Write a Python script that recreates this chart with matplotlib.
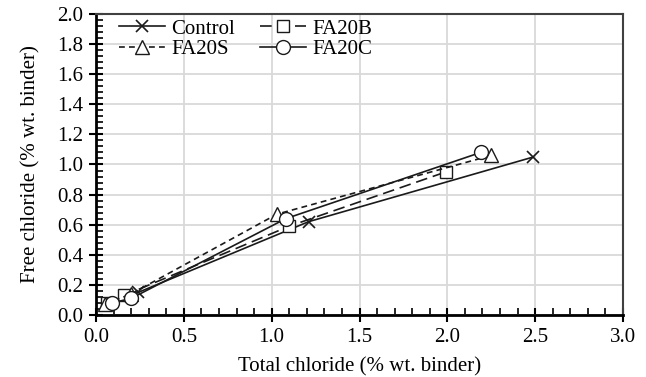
import matplotlib
matplotlib.use("Agg")
import matplotlib.pyplot as plt
from matplotlib.ticker import MultipleLocator, FormatStrFormatter

plt.rcParams['font.family'] = ['Liberation Serif', 'DejaVu Serif']

series_names = ["Control", "FA20B", "FA20S", "FA20C"]
control_x = [0.07, 0.24, 1.21, 2.49]
control_y = [0.08, 0.15, 0.62, 1.05]
fa20b_x = [0.06, 0.16, 1.10, 1.99]
fa20b_y = [0.08, 0.13, 0.59, 0.95]
fa20s_x = [0.05, 0.20, 1.03, 2.25]
fa20s_y = [0.07, 0.14, 0.67, 1.06]
fa20c_x = [0.09, 0.20, 1.08, 2.19]
fa20c_y = [0.08, 0.11, 0.64, 1.08]

fig = plt.figure(figsize=(6.46, 3.77), dpi=100)
ax = fig.add_axes([96/646, 1-315/377, (623-96)/646, (315-14)/377])

col = '#1a1a1a'
h0, = ax.plot(control_x, control_y, color=col, lw=1.2, ls='-', marker='x', ms=9,
              mew=1.2, label=series_names[0])
h1, = ax.plot(fa20b_x, fa20b_y, color=col, lw=1.2, ls=(0, (7, 3.5)), marker='s', ms=9,
              mfc='white', mew=1.0, label=series_names[1])
h2, = ax.plot(fa20s_x, fa20s_y, color=col, lw=1.2, ls=(0, (3.5, 2.5)), marker='^', ms=10,
              mfc='white', mew=1.0, label=series_names[2])
h3, = ax.plot(fa20c_x, fa20c_y, color=col, lw=1.2, ls='-', marker='o', ms=10,
              mfc='white', mew=1.0, label=series_names[3])

ax.set_xlim(0, 3.0)
ax.set_ylim(0, 2.0)
ax.xaxis.set_major_locator(MultipleLocator(0.5))
ax.xaxis.set_minor_locator(MultipleLocator(0.1))
ax.yaxis.set_major_locator(MultipleLocator(0.2))
ax.yaxis.set_minor_locator(MultipleLocator(0.04))
ax.xaxis.set_major_formatter(FormatStrFormatter('%.1f'))
ax.yaxis.set_major_formatter(FormatStrFormatter('%.1f'))

ax.grid(True, which='major', color='#d9d9d9', lw=1.3)
ax.set_axisbelow(True)

for s in ['left', 'bottom']:
    ax.spines[s].set_linewidth(2.0)
    ax.spines[s].set_color('black')
for s in ['top', 'right']:
    ax.spines[s].set_linewidth(1.5)
    ax.spines[s].set_color('#404040')

ax.tick_params(which='major', direction='inout', length=10, width=1.5,
               labelsize=15, pad=4, colors='black')
ax.tick_params(which='minor', direction='in', length=5, width=1.2)

ax.set_xlabel('Total chloride (% wt. binder)', fontsize=15, labelpad=8)
ax.set_ylabel('Free chloride (% wt. binder)', fontsize=15, labelpad=12)

ax.legend([h0, h2, h1, h3],
          [series_names[0], series_names[2], series_names[1], series_names[3]],
          loc='upper left', ncol=2, frameon=False, fontsize=15,
          handlelength=2.2, columnspacing=1.2, handletextpad=0.3,
          labelspacing=0.05, borderaxespad=0.2, bbox_to_anchor=(0.02, 1.025))

fig.savefig('out.png', dpi=100)
